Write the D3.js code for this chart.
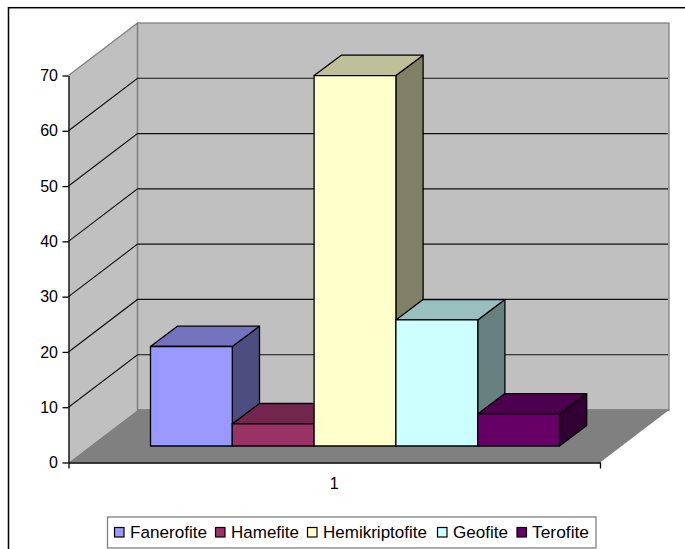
<!DOCTYPE html>
<html><head><meta charset="utf-8">
<script src="https://cdn.jsdelivr.net/npm/d3@7/dist/d3.min.js"></script>
<style>html,body{margin:0;padding:0;background:#fff}svg{display:block}text{font-family:"Liberation Sans",Arial,sans-serif;fill:#000}</style>
</head><body><svg id="c" width="685" height="549"></svg>
<script>
const categories = ["1"];
const seriesNames = ["Fanerofite","Hamefite","Hemikriptofite","Geofite","Terofite"];
const seriesValues = [18,4,67,22.8,5.8];
const seriesColors = ["#9999ff","#993366","#ffffcc","#ccffff","#660066"];
const sideColors = ["#4d4d80","#4d1a33","#808066","#668080","#330033"];
const topColors = ["#7373bf","#73264d","#bfbf99","#99bfbf","#4d004d"];
const yTicks = [0,10,20,30,40,50,60,70];

const svg = d3.select("#c");
const W0=68.5, W1=600, Y0=462.5, Y70=75.5;
const y = d3.scaleLinear().domain([0,70]).range([Y0,Y70]);
const DX=69, DY=-52.5;             // wall depth
const bdx=27.2, bdy=-20.4;         // bar depth
const base=446-Y0;                 // bar plane offset from axis

svg.append("rect").attr("x",8.5).attr("y",7.7).attr("width",680).attr("height",600)
  .attr("fill","#fff").attr("stroke","#000").attr("stroke-width",1.5);

// side wall
svg.append("path").attr("d",d3.line()([[W0,Y0],[W0+DX,Y0+DY],[W0+DX,y(70)+DY],[W0,y(70)]])+"Z")
  .attr("fill","#c0c0c0");
// back wall
svg.append("rect").attr("x",W0+DX).attr("y",y(70)+DY).attr("width",W1-W0).attr("height",Y0-y(70))
  .attr("fill","#c0c0c0").attr("stroke","#808080").attr("stroke-width",1.3);
// floor
svg.append("path").attr("d",d3.line()([[W0,Y0],[W0+DX,Y0+DY],[W1+DX,Y0+DY],[W1,Y0]])+"Z")
  .attr("fill","#808080");
// wall edges
svg.append("path").attr("d",d3.line()([[W0,y(70)],[W0+DX,y(70)+DY],[W0+DX,Y0+DY]]))
  .attr("fill","none").attr("stroke","#808080").attr("stroke-width",1.3);
svg.append("line").attr("x1",W0+DX).attr("x2",W1+DX).attr("y1",Y0+DY).attr("y2",Y0+DY).attr("stroke","#808080").attr("stroke-width",1.3);

// gridlines
yTicks.filter(t=>t>0&&t<70).forEach(t=>{
  svg.append("path").attr("d",d3.line()([[W0,y(t)],[W0+DX,y(t)+DY],[W1+DX-1,y(t)+DY]]))
    .attr("fill","none").attr("stroke","#111").attr("stroke-width",1.15);
});

// bars
const x = d3.scaleBand().domain(seriesNames).range([150.5,559.5]);
seriesNames.forEach((n,i)=>{
  const xa=x(n), xb=xa+x.bandwidth(), yb=y(0)+base, yt=y(seriesValues[i])+base;
  const g=svg.append("g").attr("stroke","#000").attr("stroke-width",1.3).attr("stroke-linejoin","round");
  g.append("path").attr("d",d3.line()([[xb,yb],[xb+bdx,yb+bdy],[xb+bdx,yt+bdy],[xb,yt]])+"Z").attr("fill",sideColors[i]);
  g.append("path").attr("d",d3.line()([[xa,yt],[xa+bdx,yt+bdy],[xb+bdx,yt+bdy],[xb,yt]])+"Z").attr("fill",topColors[i]);
  g.append("rect").attr("x",xa).attr("y",yt).attr("width",xb-xa).attr("height",yb-yt).attr("fill",seriesColors[i]);
});

// axes
const ax=svg.append("g").attr("transform",`translate(${W0},0)`).call(d3.axisLeft(y).tickValues(yTicks).tickSize(6).tickPadding(4.5).tickSizeOuter(0));
ax.selectAll("text").style("font-size","16px").attr("fill","#000");
ax.selectAll("line,path").attr("stroke","#000").attr("stroke-width",1.3);
const xAxisScale=d3.scaleBand().domain(categories).range([W0,W1]);
const bx=svg.append("g").attr("transform",`translate(0,${Y0})`).call(d3.axisBottom(xAxisScale).tickSize(0).tickPadding(15).tickSizeOuter(6));
bx.selectAll("text").style("font-size","16px").attr("fill","#000");
bx.selectAll("path").attr("stroke","#000").attr("stroke-width",1.3);

// legend
const lg=svg.append("g");
lg.append("rect").attr("x",107.5).attr("y",517).attr("width",488.5).attr("height",31).attr("fill","#fff").attr("stroke","#808080").attr("stroke-width",1.3);
const swX=[114.5,215.5,307.5,437.5,517], txX=[130,231,323,453,532], txW=[77,68,104,55,57];
seriesNames.forEach((n,i)=>{
  lg.append("rect").attr("x",swX[i]).attr("y",527.5).attr("width",9.5).attr("height",9.5).attr("fill",seriesColors[i]).attr("stroke","#000").attr("stroke-width",1.2);
  lg.append("text").attr("x",txX[i]).attr("y",538).style("font-size","16.8px").attr("textLength",txW[i]).attr("lengthAdjust","spacingAndGlyphs").text(n);
});
</script></body></html>
